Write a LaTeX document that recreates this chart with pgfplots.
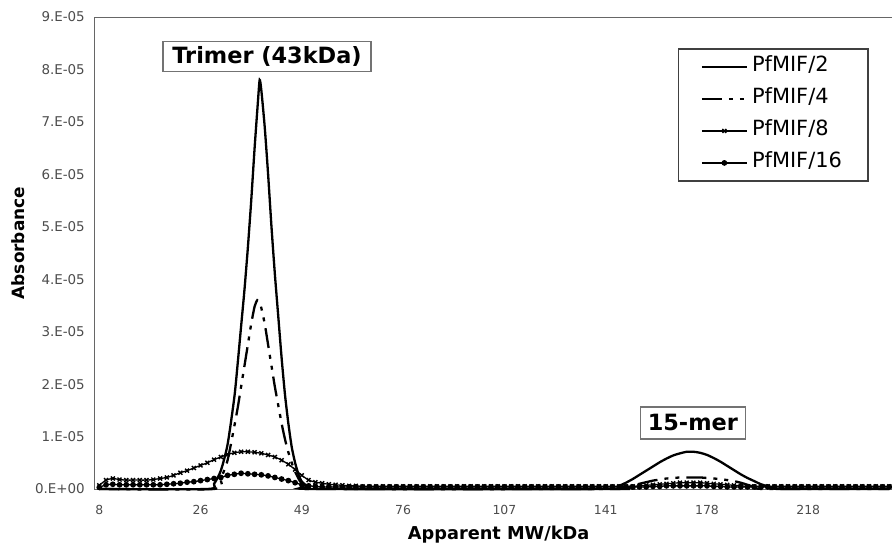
\documentclass[border=0pt]{standalone}
\usepackage{pgfplots}
\pgfplotsset{compat=1.18}
\usepackage{fontspec}
\setmainfont{DejaVu Sans}
\begin{document}
\begin{tikzpicture}
\useasboundingbox (0,0) rectangle (892bp,544bp);
\begin{axis}[
  at={(94bp,55bp)}, anchor=south west,
  scale only axis, width=798bp, height=472bp,
  xmin=-0.785, xmax=117.4, ymin=0, ymax=9,
  clip=false,
  axis x line*=bottom, axis y line*=left,
  axis line style={-, black!60, line width=1bp},
  xtick={0,15,30,45,60,75,90,105},
  xticklabels={8,26,49,76,107,141,178,218},
  ytick={0,1,2,3,4,5,6,7,8,9},
  yticklabels={0.E+00,1.E-05,2.E-05,3.E-05,4.E-05,5.E-05,6.E-05,7.E-05,8.E-05,9.E-05},
  tick style={draw=none},
  xticklabel style={anchor=base, yshift=-25bp, font=\fontsize{12.5}{14}\selectfont, text=black!70},
  yticklabel style={anchor=east, inner sep=0pt, xshift=-9bp, font=\fontsize{13.5}{15}\selectfont, text=black!70},
  xlabel={Apparent MW/kDa},
  ylabel={Absorbance},
  xlabel style={at={(axis description cs:0.507,-0.108)}, anchor=base, font=\fontsize{17.8}{20}\selectfont\bfseries},
  ylabel style={at={(axis description cs:-0.0952,0.521)}, anchor=center, font=\fontsize{17}{20}\selectfont\bfseries},
  legend style={at={(axis description cs:0.7318,0.934)}, anchor=north west,
    draw=black!75, line width=1.5bp, inner xsep=22bp, inner ysep=7bp,
    font=\fontsize{21}{24}\selectfont, row sep=10bp,
    nodes={inner sep=2bp, inner xsep=4bp, text height=14bp, text depth=4bp},
    cells={anchor=west}},
  legend image code/.code={
    \draw[#1] (0bp,0bp) -- (45bp,0bp);
    \draw[#1, only marks] plot coordinates {(22.5bp,0bp)};
  },
]
% PfMIF/2
\addplot[black, line width=2.3bp, smooth, tension=0.4] coordinates {
(0,0)(16,0)(17,0.10)(18,0.35)(19,0.85)(20,1.75)(20.5,2.4)(21,3.1)(21.5,3.8)(22,4.6)(22.5,5.5)(23,6.5)(23.5,7.4)(23.75,7.8)(24,7.6)(24.5,6.9)(25,6.0)(25.5,5.0)(26,4.1)(26.5,3.3)(27,2.5)(27.5,1.8)(28,1.25)(28.5,0.8)(29,0.5)(29.5,0.28)(30,0.14)(31,0.04)(32,0)
(76,0)(77,0.06)(78,0.12)(79,0.19)(80,0.27)(81,0.35)(82,0.43)(83,0.51)(84,0.58)(85,0.64)(86,0.68)(87,0.71)(88,0.71)(89,0.69)(90,0.65)(91,0.59)(92,0.52)(93,0.44)(94,0.36)(95,0.28)(96,0.21)(97,0.15)(98,0.09)(99,0.05)(100,0.02)(101,0)(117,0)
};
\addlegendentry{PfMIF/2}
% PfMIF/4
\addplot[black, line width=2.3bp, smooth, tension=0.4, dash pattern=on 20bp off 7bp on 4bp off 7bp on 4bp off 7bp] coordinates {
(0,0)(17,0)(18,0.2)(19,0.55)(20,1.2)(20.5,1.55)(21,1.95)(21.5,2.35)(22,2.75)(22.5,3.15)(23,3.48)(23.4,3.6)(23.75,3.55)(24,3.45)(24.5,3.15)(25,2.75)(25.5,2.35)(26,1.95)(26.5,1.6)(27,1.25)(27.5,0.95)(28,0.7)(28.5,0.5)(29,0.33)(29.5,0.2)(30,0.1)(31,0.03)(32,0)
(77,0)(78,0.02)(79,0.06)(80,0.10)(81,0.13)(82,0.16)(83,0.18)(84,0.20)(85,0.21)(86,0.22)(87,0.22)(88,0.22)(89,0.22)(90,0.21)(91,0.20)(92,0.19)(93,0.17)(94,0.15)(95,0.12)(96,0.08)(97,0.04)(98,0.01)(99,0)(117,0)
};
\addlegendentry{PfMIF/4}
% PfMIF/8
\addplot[black, line width=1.3bp, smooth, tension=0.4, mark=x, mark size=2.8bp, mark options={solid, line width=1.4bp}] coordinates {
(0,0.07)(1,0.17)(2,0.20)(3,0.18)(4,0.17)(5,0.17)(6,0.17)(7,0.17)(8,0.18)(9,0.20)(10,0.22)(11,0.26)(12,0.31)(13,0.35)(14,0.40)(15,0.45)(16,0.50)(17,0.56)(18,0.61)(19,0.66)(20,0.69)(21,0.71)(22,0.71)(23,0.70)(24,0.68)(25,0.65)(26,0.61)(27,0.55)(28,0.47)(29,0.37)(30,0.26)(31,0.17)(32,0.13)(33,0.11)(34,0.09)(35,0.08)(36,0.07)(37,0.06)(38,0.06)(39,0.05)
(40,0.05)(41,0.05)(42,0.05)(43,0.05)(44,0.05)(45,0.05)(46,0.05)(47,0.05)(48,0.05)(49,0.05)(50,0.05)(51,0.05)(52,0.05)(53,0.05)(54,0.05)(55,0.05)(56,0.05)(57,0.05)(58,0.05)(59,0.05)
(60,0.05)(61,0.05)(62,0.05)(63,0.05)(64,0.05)(65,0.05)(66,0.05)(67,0.05)(68,0.05)(69,0.05)(70,0.05)(71,0.05)(72,0.05)(73,0.05)(74,0.05)(75,0.05)(76,0.05)(77,0.05)(78,0.05)(79,0.05)
(80,0.06)(81,0.07)(82,0.08)(83,0.09)(84,0.10)(85,0.11)(86,0.12)(87,0.12)(88,0.12)(89,0.12)(90,0.11)(91,0.10)(92,0.09)(93,0.08)(94,0.07)(95,0.06)(96,0.05)(97,0.05)(98,0.05)(99,0.05)
(100,0.05)(101,0.05)(102,0.05)(103,0.05)(104,0.05)(105,0.05)(106,0.05)(107,0.05)(108,0.05)(109,0.05)(110,0.05)(111,0.05)(112,0.05)(113,0.05)(114,0.05)(115,0.05)(116,0.05)(117,0.05)
};
\addlegendentry{PfMIF/8}
% PfMIF/16
\addplot[black, line width=1.3bp, smooth, tension=0.4, mark=*, mark size=2.2bp, mark options={solid}] coordinates {
(0,0.03)(1,0.08)(2,0.09)(3,0.08)(4,0.08)(5,0.08)(6,0.08)(7,0.08)(8,0.08)(9,0.08)(10,0.09)(11,0.10)(12,0.11)(13,0.13)(14,0.14)(15,0.16)(16,0.18)(17,0.20)(18,0.22)(19,0.26)(20,0.28)(21,0.30)(22,0.29)(23,0.28)(24,0.27)(25,0.25)(26,0.22)(27,0.19)(28,0.16)(29,0.12)(30,0.08)(31,0.06)(32,0.05)(33,0.04)(34,0.04)(35,0.04)(36,0.04)(37,0.04)(38,0.04)(39,0.04)
(40,0.04)(41,0.04)(42,0.04)(43,0.04)(44,0.04)(45,0.04)(46,0.04)(47,0.04)(48,0.04)(49,0.04)(50,0.04)(51,0.04)(52,0.04)(53,0.04)(54,0.04)(55,0.04)(56,0.04)(57,0.04)(58,0.04)(59,0.04)
(60,0.04)(61,0.04)(62,0.04)(63,0.04)(64,0.04)(65,0.04)(66,0.04)(67,0.04)(68,0.04)(69,0.04)(70,0.04)(71,0.04)(72,0.04)(73,0.04)(74,0.04)(75,0.04)(76,0.04)(77,0.04)(78,0.04)(79,0.04)
(80,0.04)(81,0.04)(82,0.05)(83,0.05)(84,0.06)(85,0.06)(86,0.06)(87,0.06)(88,0.06)(89,0.06)(90,0.06)(91,0.05)(92,0.05)(93,0.04)(94,0.04)(95,0.04)(96,0.04)(97,0.04)(98,0.04)(99,0.04)
(100,0.04)(101,0.04)(102,0.04)(103,0.04)(104,0.04)(105,0.04)(106,0.04)(107,0.04)(108,0.04)(109,0.04)(110,0.04)(111,0.04)(112,0.04)(113,0.04)(114,0.04)(115,0.04)(116,0.04)(117,0.04)
};
\addlegendentry{PfMIF/16}
\draw[black!60, line width=1bp] (rel axis cs:0,1) -- (rel axis cs:1,1);
\node[draw=black!55, line width=1.2bp, fill=white, minimum width=208bp, minimum height=30bp, inner sep=0pt, font=\fontsize{22.5}{27}\selectfont\bfseries] at (axis cs:24.84,8.24) {Trimer (43kDa)};
\node[draw=black!55, line width=1.2bp, fill=white, minimum width=105bp, minimum height=32bp, inner sep=0pt, font=\fontsize{22.5}{27}\selectfont\bfseries] at (axis cs:87.9,1.26) {15-mer};
\end{axis}
\end{tikzpicture}
\end{document}
